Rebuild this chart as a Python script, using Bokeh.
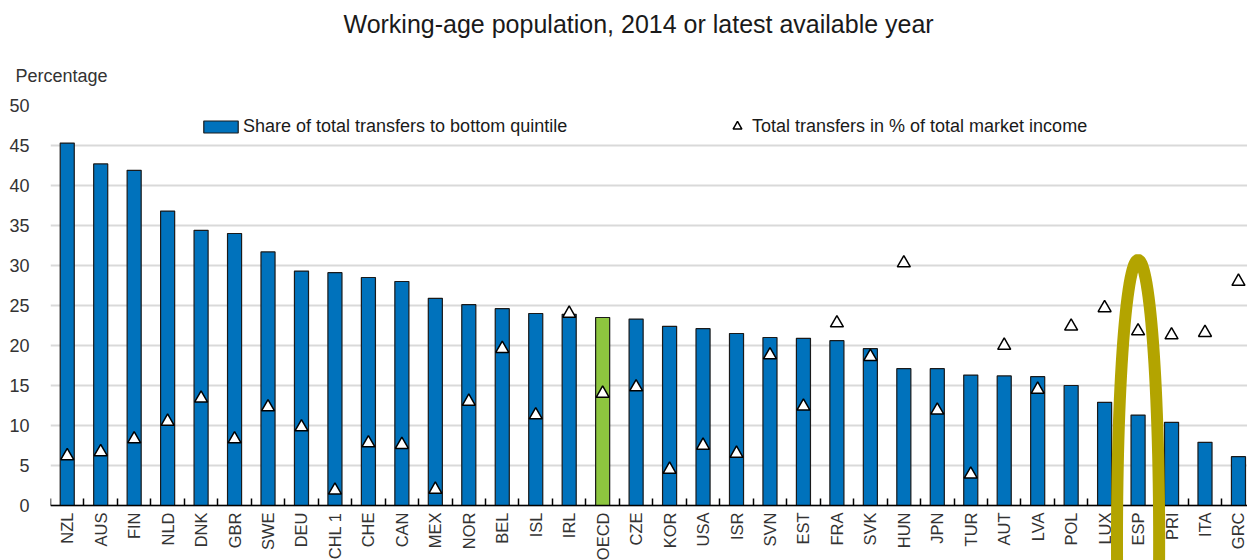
import math
from bokeh.plotting import figure
from bokeh.models import (ColumnDataSource, FixedTicker, Range1d, Legend, LegendItem,
                          Title, PolyAnnotation)
from bokeh.embed import file_html
from bokeh.resources import INLINE

countries = ["NZL", "AUS", "FIN", "NLD", "DNK", "GBR", "SWE", "DEU", "CHL 1", "CHE", "CAN", "MEX",
             "NOR", "BEL", "ISL", "IRL", "OECD", "CZE", "KOR", "USA", "ISR", "SVN", "EST", "FRA",
             "SVK", "HUN", "JPN", "TUR", "AUT", "LVA", "POL", "LUX", "ESP", "PRI", "ITA", "GRC"]
share_bottom = [45.3, 42.7, 41.9, 36.8, 34.4, 34.0, 31.7, 29.3, 29.1, 28.5, 28.0, 25.9,
                25.1, 24.6, 24.0, 23.9, 23.5, 23.3, 22.4, 22.1, 21.5, 21.0, 20.9, 20.6,
                19.6, 17.1, 17.1, 16.3, 16.2, 16.1, 15.0, 12.9, 11.3, 10.4, 7.9, 6.1]
transfers_pct = [6.2, 6.7, 8.3, 10.5, 13.4, 8.3, 12.3, 9.8, 1.9, 7.8, 7.6, 2.0,
                 13.0, 19.6, 11.3, 24.0, 14.0, 14.8, 4.5, 7.5, 6.5, 18.8, 12.4, 22.8,
                 18.6, 30.3, 11.9, 3.9, 20.0, 14.5, 22.4, 24.7, 21.8, 21.3, 21.6, 28.0]
y_ticks = [0, 5, 10, 15, 20, 25, 30, 35, 40, 45, 50]
highlight = "ESP"

FONT = "Liberation Sans"
BLUE = "#0072BC"
GREEN = "#8DC63F"

n = len(countries)
xs = list(range(n))
colors = [GREEN if c == "OECD" else BLUE for c in countries]
src = ColumnDataSource(dict(x=xs, share=share_bottom, transfers=transfers_pct, color=colors))

# frame extends to the bottom edge so the highlight ellipse can run over the labels
p = figure(width=1247, height=560, x_range=Range1d(-0.5, 35.27), y_range=Range1d(-6.875, 50),
           output_backend="svg", toolbar_location=None)
p.min_border_left = 50
p.min_border_right = 0
p.min_border_top = 105
p.min_border_bottom = 0
p.outline_line_color = None
p.background_fill_color = "white"
p.border_fill_color = "white"

# x axis at y = 0, inward ticks between categories, rotated labels
p.xaxis.fixed_location = 0
p.xaxis.ticker = FixedTicker(ticks=xs, minor_ticks=[i - 0.5 for i in range(n + 1)])
p.xaxis.major_label_overrides = {i: c for i, c in enumerate(countries)}
p.xaxis.major_label_orientation = math.pi / 2
p.xaxis.major_label_standoff = 7
p.xaxis.major_label_text_font = FONT
p.xaxis.major_label_text_font_size = "16.5px"
p.xaxis.major_label_text_color = "#333333"
p.xaxis.axis_line_color = "black"
p.xaxis.axis_line_width = 1.5
p.xaxis.major_tick_in = 0
p.xaxis.major_tick_out = 0
p.xaxis.major_tick_line_color = None
p.xaxis.minor_tick_in = 7
p.xaxis.minor_tick_out = 0
p.xaxis.minor_tick_line_color = "black"
p.xaxis.minor_tick_line_width = 1.5

# y axis
p.yaxis.ticker = FixedTicker(ticks=y_ticks)
p.yaxis.axis_line_color = None
p.yaxis.major_tick_line_color = None
p.yaxis.minor_tick_line_color = None
p.yaxis.major_label_standoff = 15
p.yaxis.major_label_text_font = FONT
p.yaxis.major_label_text_font_size = "18px"
p.yaxis.major_label_text_color = "#333333"

p.xgrid.grid_line_color = None
p.ygrid.grid_line_color = "#d9d9d9"
p.ygrid.grid_line_width = 2

bars = p.vbar(x="x", top="share", width=0.42, fill_color="color", line_color="#1a1a1a",
              line_width=1.2, source=src)
tris = p.scatter(x="x", y="transfers", marker="triangle", size=13, fill_color="white",
                 line_color="black", line_width=1.5, source=src)

# titles: first added sits next to the frame
p.add_layout(Title(text="Percentage", align="left", offset=-35, standoff=40,
                   text_font=FONT, text_font_size="18px", text_font_style="normal",
                   text_color="#333333"), "above")
p.add_layout(Title(text="Working-age population, 2014 or latest available year", align="left",
                   offset=293, standoff=11, text_font=FONT, text_font_size="25px",
                   text_font_style="normal", text_color="#1a1a1a"), "above")

# legends
leg1 = Legend(items=[LegendItem(label="Share of total transfers to bottom quintile", renderers=[bars])],
              location=(149, 423), orientation="horizontal", glyph_width=43, glyph_height=15,
              label_standoff=1, padding=0, margin=0, border_line_color=None,
              background_fill_alpha=0, label_text_font=FONT, label_text_font_size="18px",
              label_text_color="#1a1a1a", label_height=22)
leg2 = Legend(items=[LegendItem(label="Total transfers in % of total market income", renderers=[tris])],
              location=(676, 423), orientation="horizontal", glyph_width=22, glyph_height=22,
              label_standoff=4, padding=0, margin=0, border_line_color=None,
              background_fill_alpha=0, label_text_font=FONT, label_text_font_size="18px",
              label_text_color="#1a1a1a", label_height=22)
p.add_layout(leg1)
p.add_layout(leg2)

# highlight ellipse around ESP
ci = countries.index(highlight)
rx, ry, cy = 0.63, 35.1, -4.4
ell_x = [ci + rx * math.cos(2 * math.pi * k / 120) for k in range(120)]
ell_y = [cy + ry * math.sin(2 * math.pi * k / 120) for k in range(120)]
p.add_layout(PolyAnnotation(xs=ell_x, ys=ell_y, fill_alpha=0, line_color="#b3a400",
                            line_alpha=1, line_width=12))

open("out.html", "w").write(file_html(p, INLINE))
